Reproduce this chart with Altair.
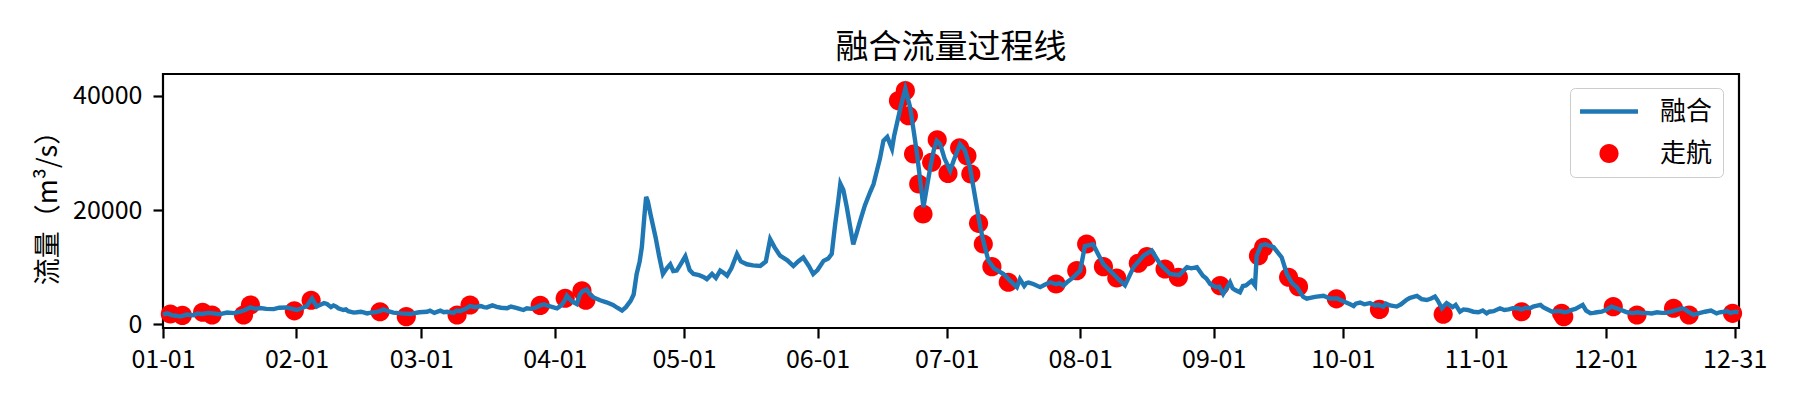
import altair as alt
import pandas as pd

# ---- data (day offset from 2020-01-01, flow m3/s) ----
LINE_DAYS = [0.0, 1, 2, 3, 4, 5.5, 7.1, 8, 9, 10.5, 11.7, 13, 14.9, 16.5, 17.9, 19, 20.3, 21.5, 22.6, 24, 25.7,
             27, 28.8, 30, 31.1, 32.2, 33.4, 34.6, 35.7, 36.8, 38.1, 39, 39.6, 40.7, 41.9, 43, 44.3, 46, 47.4,
             49, 50.3, 51.2, 52.3, 53.5, 55.5, 57.4, 59.5, 61.3, 63, 64.4, 66, 67.5, 69, 70.3, 71.3, 72.5, 73.8,
             75.2, 77.5, 79.9, 81.8, 83.7, 85.5, 86.5, 87.6, 88.5, 89.5, 90.5, 91.5, 92.5, 93.4, 93.8, 95, 96.1,
             96.8, 97.5, 98.4, 99.2, 100, 101.5, 103, 104.5, 105.5, 106.6, 107.5, 108.6, 109.3, 110, 110.7,
             111.2, 111.8, 112.2, 112.6, 113.2, 114.4, 115.2, 116.1, 117, 117.8, 118.5, 119.3, 120.2, 121.3,
             122.3, 123.2, 124.5, 125.5, 126.3, 127.5, 128.4, 129.4, 130.2, 131, 132, 133.3, 134.2, 135.6, 137,
             138.7, 140, 141, 142, 143.3, 145, 146.4, 147.5, 148.7, 150, 151, 152, 153.4, 154.5, 155.3, 156.1,
             156.8, 157.3, 158, 158.8, 159.6, 160.3, 161.1, 161.9, 163, 164.2, 165, 165.8, 166.5, 167.3, 168.2,
             169.3, 169.8, 170.4, 171.3, 172.4, 173.5, 174.3, 175, 175.8, 176.6, 177.4, 178.2, 179, 179.7,
             180.5, 181.5, 182.8, 183.8, 185.1, 186.2, 187.4, 188.2, 189, 189.8, 190.5, 191.7, 193, 195.2,
             196.5, 198.3, 199, 200.5, 202.1, 203.7, 206, 207.4, 209.1, 211.4, 213, 214.1, 216, 217, 218.4,
             220.7, 222, 223.4, 225.4, 227.7, 229.6, 231.6, 233.9, 236, 237.8, 240.1, 241.5, 243.2, 244.5,
             246.2, 247.8, 249, 250.1, 251.5, 252.8, 253.6, 254, 255, 256, 257.9, 259.8, 261, 262.2, 263.3,
             264.8, 265.6, 267.5, 269.5, 271, 272.8, 273.3, 275.7, 276.5, 278, 280.3, 281.5, 283.4, 285,
             286.5, 287.5, 288.8, 290, 291.2, 292.3, 293.5, 295.4, 296, 297, 298.1, 299.5, 301.2, 303, 304.3,
             305.5, 307.4, 309, 310.5, 312.5, 314.6, 316.5, 318.2, 319.9, 321, 322.6, 324.5, 326.2, 328,
             329.7, 331.5, 333, 334.1, 336.4, 338.6, 340, 341.3, 343.5, 345.7, 348, 350.2, 352.8, 354, 355.5,
             357, 358.1, 359.5, 360.8, 362.5, 364, 365.2, 365.9]
LINE_FLOW = [1700, 1900, 1600, 1500, 1350, 1700, 1600, 1900, 1800, 2000, 1900, 1750, 2050, 1950, 2200, 2500,
             2950, 2700, 2850, 2700, 2650, 2900, 2950, 2700, 2500, 2800, 3200, 4500, 3100, 3500, 3550, 3000,
             3300, 2800, 2500, 2300, 2050, 2200, 1900, 2100, 2300, 2600, 2300, 2050, 1900, 1800, 2100, 2200,
             2000, 2400, 2200, 2000, 2300, 2700, 3200, 3000, 3200, 2950, 3050, 2800, 2900, 2500, 2700, 2900,
             3300, 3500, 3200, 3000, 2800, 3300, 4300, 5000, 4000, 3550, 5200, 5800, 6100, 5200, 4700, 4200,
             3850, 3400, 2900, 2400, 3000, 4100, 5200, 8800, 11000, 13500, 19000, 22300, 21500, 19300, 15200,
             12000, 8800, 9800, 10500, 9300, 9400, 10500, 11900, 9500, 8800, 8600, 8300, 7900, 8800, 8100,
             9400, 9000, 8500, 9800, 12300, 11000, 10500, 10300, 10200, 11000, 14900, 13500, 12000, 11200,
             10200, 11000, 11700, 10200, 8800, 9500, 11100, 11500, 12300, 17500, 21500, 24600, 23500, 20500,
             17000, 14000, 16000, 18100, 20800, 23100, 24500, 26900, 29000, 32100, 32800, 30700, 33000,
             35000, 38000, 41200, 38000, 34000, 30400, 25500, 20500, 24000, 27500, 30500, 32100, 31500,
             29000, 26900, 29000, 31500, 30500, 27500, 24000, 20500, 17000, 14600, 11100, 9800, 8800, 7800,
             6500, 7900, 7200, 7050, 6500, 7350, 7000, 6800, 8200, 9400, 13700, 14000, 12500, 10500, 8800,
             7800, 6800, 10000, 12000, 12900, 10500, 8800, 8600, 10000, 10000, 8500, 7050, 6500, 5300, 7350,
             6000, 5600, 6800, 7600, 6800, 12000, 13800, 14000, 13500, 11700, 8800, 7200, 6500, 4800, 4500,
             4800, 5000, 4500, 4500, 4300, 3500, 3200, 3800, 3700, 3300, 3100, 3300, 3100, 3500, 4300, 4700,
             4950, 4400, 4250, 4850, 4200, 2800, 3700, 3000, 2200, 2500, 2200, 2100, 1900, 2300, 2800, 2600,
             2800, 2900, 3100, 3400, 2800, 2200, 2300, 2200, 2700, 3400, 1950, 2100, 2200, 3100, 2500, 2100,
             1950, 1950, 1900, 2000, 2200, 2800, 2300, 1650, 2000, 2200, 2400, 1900, 2200, 2000, 2200, 2100]

# extra short wiggles of the same series (the line is sorted by date when drawn)
WIGGLE_DAYS = [36.2, 37.4, 40.2, 42.5, 45, 48, 62, 65.2, 68.2, 74.5, 76.5, 78.5, 80.8, 82.8, 84.5,
               197.3, 200, 201, 205, 208.2, 210, 238.8, 242.3, 245.3, 248.4, 250.8,
               274.5, 277, 279, 282.3, 284, 289.5, 294.5, 296.5, 300.2, 302, 306.5, 308, 311.5, 313.5,
               315.5, 317.5, 320.5, 323.5, 325.5, 327, 330.5, 332.2, 335.3, 337.5, 339.3, 342.5, 344.5,
               347, 349, 351.5, 353.5, 356, 361.5, 363.2]
WIGGLE_FLOW = [3300, 3700, 3100, 2600, 2100, 2000, 2400, 2100, 2400, 3000, 3300, 2900, 3100, 2700, 2800,
               7200, 6700, 7300, 7000, 7200, 7400, 9800, 8000, 6600, 6300, 6700,
               3900, 3600, 3500, 3400, 3600, 4600, 4500, 3500, 3400, 2600, 2400, 2200, 2500, 2800,
               2600, 2800, 3000, 2300, 2100, 2500, 2400, 2000, 2600, 2800, 2300, 2100, 2000,
               2100, 2000, 2500, 2600, 1800, 2100, 2300]

PT_DAYS = [1.7, 4.5, 9.2, 11.4, 18.7, 20.3, 30.5, 34.4, 50.4, 56.5, 68.3, 71.3, 87.6, 93.4, 97.3, 98.2,
           170.8, 172.4, 173.1, 174.3, 175.5, 176.5, 178.5, 179.8, 182.3, 185.0, 186.7, 187.6, 189.4, 190.5,
           192.5, 196.3, 207.4, 212.2, 214.5, 218.4, 221.5, 226.5, 228.5, 232.7, 235.8, 245.5, 254.4, 255.6,
           261.4, 263.7, 272.5, 282.5, 297.3, 315.5, 324.8, 325.3, 336.8, 342.3, 350.8, 354.4, 364.5]
PT_FLOW = [1800, 1550, 2100, 1630, 1630, 3380, 2350, 4200, 2200, 1330, 1630, 3380, 3300, 4550, 5850, 4200,
           39130, 40880, 36500, 29800, 24550, 19300, 28350, 32300, 26400, 30900, 29500, 26300, 17670, 14050,
           10080, 7350, 7050, 9380, 14050, 10080, 8100, 10680, 11830, 9680, 8230, 6760, 12000, 13480,
           8230, 6580, 4450, 2600, 1750, 2200, 1920, 1330, 3080, 1630, 2800, 1630, 1920]

TICK_MONTHS = [1, 2, 3, 4, 5, 6, 7, 8, 9, 10, 11, 12, 12]
TICK_DAYS_OF_MONTH = [1, 1, 1, 1, 1, 1, 1, 1, 1, 1, 1, 1, 31]
Y_TICKS = [0, 20000, 40000]
SERIES = ["融合", "走航"]
COLORS = ["#1f77b4", "#ff0000"]

start = pd.Timestamp("2020-01-01")
line_df = pd.DataFrame({
    "date": start + pd.to_timedelta(LINE_DAYS + WIGGLE_DAYS, unit="D"),
    "flow": LINE_FLOW + WIGGLE_FLOW,
}).sort_values("date")
pt_df = pd.DataFrame({
    "date": start + pd.to_timedelta(PT_DAYS, unit="D"),
    "flow": PT_FLOW,
    "series": "走航",
})

FONT = "Noto Sans CJK SC"

x_enc = alt.X(
    "date:T",
    scale=alt.Scale(domain=[alt.DateTime(year=2020, month=1, date=1),
                            alt.DateTime(year=2020, month=12, date=31, hours=23, minutes=59)]),
    axis=alt.Axis(
        values=[alt.DateTime(year=2020, month=m, date=d) for m, d in zip(TICK_MONTHS, TICK_DAYS_OF_MONTH)],
        format="%m-%d", title=None, grid=False, domain=False,
        tickColor="black", tickWidth=2.2, tickSize=10,
        labelFont=FONT, labelFontSize=25, labelColor="black", labelPadding=9,
        labelFlush=False, labelOverlap=False,
    ),
)
y_enc = alt.Y(
    "flow:Q",
    scale=alt.Scale(domain=[-650, 43800], nice=False, zero=False),
    axis=alt.Axis(
        values=Y_TICKS, format="d", title="流量（m³/s）", grid=False, domain=False,
        tickColor="black", tickWidth=2.2, tickSize=10,
        labelFont=FONT, labelFontSize=25, labelColor="black", labelPadding=11,
        titleFont=FONT, titleFontSize=27, titleFontWeight="normal", titleColor="black",
        titleAngle=270, titleAlign="center", titleBaseline="middle", titleX=-115, titleY=127,
    ),
)

# symbol shapes in unit space; both are drawn with one large symbol size so the
# legend's symbol column is as wide as the line sample
SYMBOL_SIZE = 3364
LINE_PATH = "M-1,-0.075H1V0.075H-1Z"
DOT_PATH = "M0.33,0A0.33,0.33,0,1,1,-0.33,0A0.33,0.33,0,1,1,0.33,0Z"

legend = alt.Legend(
    title=None, orient="none", legendX=1407, legendY=14,
    direction="vertical",
    fillColor="rgba(255,255,255,0.8)", strokeColor="#cccccc", cornerRadius=5,
    padding=10, rowPadding=15, symbolSize=SYMBOL_SIZE, symbolOffset=0, labelOffset=22,
    clipHeight=27, symbolStrokeWidth=0,
    labelFont=FONT, labelFontSize=26, labelColor="black",
)

points = alt.Chart(pt_df).mark_point(filled=True, opacity=1, size=SYMBOL_SIZE).encode(
    x=x_enc, y=y_enc,
    color=alt.Color("series:N", scale=alt.Scale(domain=SERIES, range=COLORS), legend=legend),
    shape=alt.Shape("series:N", scale=alt.Scale(domain=SERIES, range=[LINE_PATH, DOT_PATH]), legend=legend),
)
line = alt.Chart(line_df).mark_line(color=COLORS[0], strokeWidth=4.4).encode(x=x_enc, y=y_enc)

chart = alt.layer(points, line).properties(
    width=1576, height=254,
    background="white",
    title=alt.TitleParams("融合流量过程线", font=FONT, fontSize=33, fontWeight="normal",
                          color="black", anchor="middle", offset=9),
    autosize=alt.AutoSizeParams(type="none"),
    padding={"left": 155, "top": 66, "right": 45, "bottom": 52},
).configure_view(stroke="black", strokeWidth=2.2)

chart.save("out.html", embed_options={"renderer": "svg", "actions": False})
